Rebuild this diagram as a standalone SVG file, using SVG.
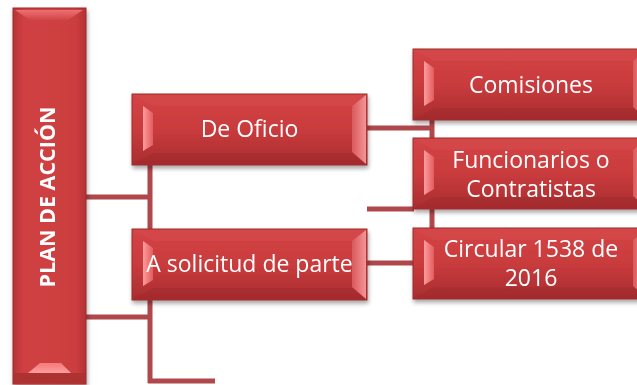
<svg xmlns="http://www.w3.org/2000/svg" xmlns:xlink="http://www.w3.org/1999/xlink" width="637" height="385" viewBox="0 0 637 385">
<defs>
<linearGradient id="gFace" x1="0" y1="0" x2="0" y2="1">
<stop offset="0" stop-color="#d44446"/>
<stop offset="0.5" stop-color="#c93b3d"/>
<stop offset="1" stop-color="#a92d2f"/>
</linearGradient>
<linearGradient id="gFaceV" x1="0" y1="0" x2="1" y2="0">
<stop offset="0" stop-color="#b83335"/>
<stop offset="0.15" stop-color="#d04143"/>
<stop offset="0.85" stop-color="#cc3e40"/>
<stop offset="1" stop-color="#b53234"/>
</linearGradient>
<linearGradient id="gBevL" x1="0" y1="0" x2="1" y2="0">
<stop offset="0" stop-color="#ff9c9c"/>
<stop offset="1" stop-color="#e25c5e"/>
</linearGradient>
<linearGradient id="gBevR" x1="0" y1="0" x2="1" y2="0">
<stop offset="0" stop-color="#d8595b"/>
<stop offset="1" stop-color="#f49496"/>
</linearGradient>
<linearGradient id="gBevT" x1="0" y1="0" x2="0" y2="1">
<stop offset="0" stop-color="#ee7072"/>
<stop offset="1" stop-color="#d14547"/>
</linearGradient>
<linearGradient id="gBevB" x1="0" y1="0" x2="0" y2="1">
<stop offset="0" stop-color="#f47a7a"/>
<stop offset="1" stop-color="#ff9d9d"/>
</linearGradient>
<filter id="shadow" x="-10%" y="-10%" width="130%" height="140%">
<feDropShadow dx="1" dy="3" stdDeviation="2" flood-color="#000" flood-opacity="0.35"/>
</filter>
<g id="hbox">
<rect x="0" y="0" width="235" height="71" fill="url(#gFace)" stroke="#9c2b2d" stroke-width="1"/>
<polygon points="1,1 234,1 220,12 21,12" fill="#d54a4c" opacity="0.5"/>
<polygon points="21,59 220,59 234,70 1,70" fill="#9e2a2c" opacity="0.45"/>
<polygon points="11,12 21,19 21,51 11,57" fill="url(#gBevL)"/>
<polygon points="220,12 234,1 234,70 220,58" fill="url(#gBevR)"/>
</g>
</defs>
<style>
.conn{stroke:#b0474a;stroke-width:5;fill:none}
.lbl{font-family:"Open Sans","Liberation Sans",sans-serif;font-size:23px;fill:#ffffff;text-anchor:middle}
.title{font-family:"Open Sans","Liberation Sans",sans-serif;font-size:21.5px;font-weight:bold;fill:#ffffff;text-anchor:middle}
</style>
<rect width="637" height="385" fill="#ffffff"/>
<g id="connectors">
<line class="conn" x1="86" y1="197" x2="152" y2="197"/>
<line class="conn" x1="86" y1="317" x2="152" y2="317"/>
<line class="conn" x1="150" y1="165" x2="150" y2="383"/>
<line class="conn" x1="148" y1="381" x2="215" y2="381"/>
<line class="conn" x1="367" y1="128" x2="434" y2="128"/>
<line class="conn" x1="432" y1="119" x2="432" y2="229"/>
<line class="conn" x1="367" y1="209" x2="414" y2="209"/>
<line class="conn" x1="367" y1="263" x2="414" y2="263"/>
</g>
<g id="plan" filter="url(#shadow)">
<rect x="13" y="8" width="73" height="376" fill="url(#gFaceV)" stroke="#9c2b2d" stroke-width="1"/>
<polygon points="15,10 83,10 68,20 30,20" fill="url(#gBevT)"/>
<polygon points="40,363 61,363 71,373 28,373" fill="url(#gBevB)"/>
<rect x="14" y="373" width="71" height="10" fill="#ad3032"/>
<text class="title" transform="translate(55,197) rotate(-90)" x="0" y="0">PLAN DE ACCIÓN</text>
</g>
<g id="deoficio" filter="url(#shadow)">
<use xlink:href="#hbox" x="132" y="94"/>
<text class="lbl" x="249.5" y="137">De Oficio</text>
</g>
<g id="asolicitud" filter="url(#shadow)">
<use xlink:href="#hbox" x="132" y="229"/>
<text class="lbl" x="249.5" y="272">A solicitud de parte</text>
</g>
<g id="comisiones" filter="url(#shadow)">
<use xlink:href="#hbox" x="413" y="49"/>
<text class="lbl" x="531" y="93">Comisiones</text>
</g>
<g id="funcionarios" filter="url(#shadow)">
<use xlink:href="#hbox" x="413" y="138"/>
<text class="lbl" x="531" y="168">Funcionarios o</text>
<text class="lbl" x="531" y="197">Contratistas</text>
</g>
<g id="circular" filter="url(#shadow)">
<use xlink:href="#hbox" x="413" y="228"/>
<text class="lbl" x="531" y="257">Circular 1538 de</text>
<text class="lbl" x="531" y="286">2016</text>
</g>
</svg>
